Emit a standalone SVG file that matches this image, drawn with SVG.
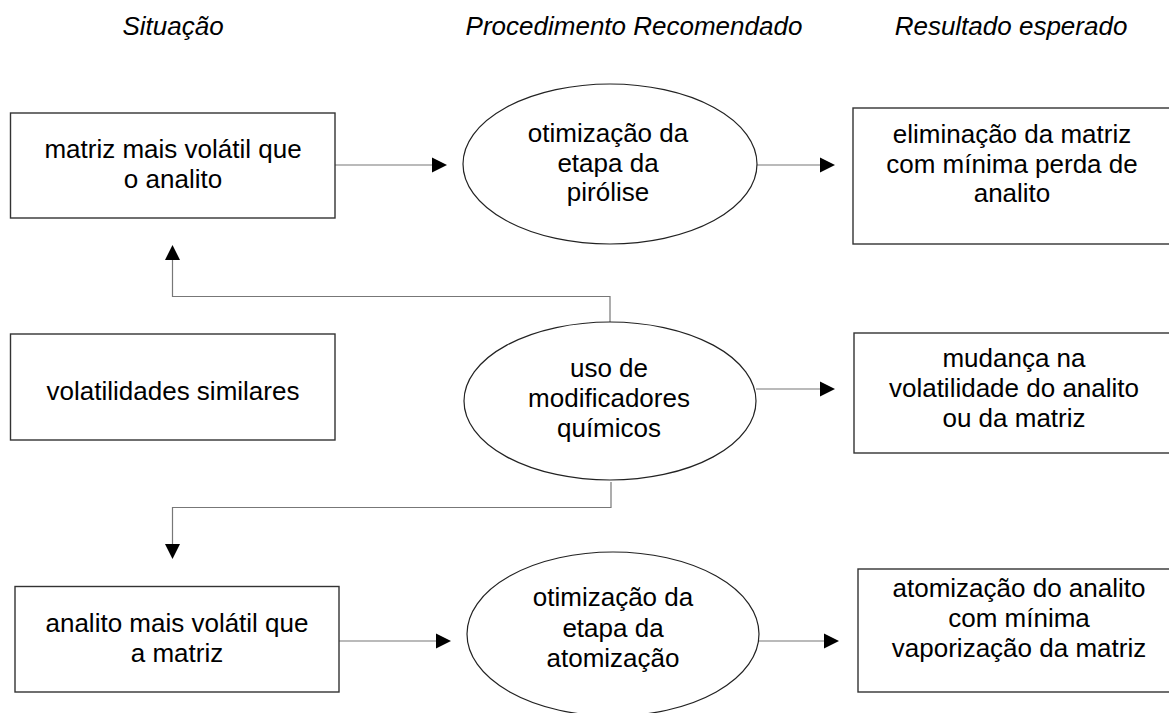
<svg xmlns="http://www.w3.org/2000/svg" width="1169" height="713" viewBox="0 0 1169 713">
<style>
  text { font-family: "Liberation Sans", Arial, sans-serif; font-size: 26px; fill: #000; text-anchor: middle; }
  .hdr { font-style: italic; }
  .box { fill: #fff; stroke: #333; stroke-width: 1.4; }
  .ell { fill: #fff; stroke: #222; stroke-width: 1.2; }
  .conn { fill: none; stroke: #777; stroke-width: 1.2; }
  .head { fill: #000; stroke: none; }
</style>
<rect width="1169" height="713" fill="#fff"/>
<g id="headers">
  <text class="hdr" x="173" y="35">Situação</text>
  <text class="hdr" x="634" y="35">Procedimento Recomendado</text>
  <text class="hdr" x="1011" y="35">Resultado esperado</text>
</g>
<g id="connectors">
  <line class="conn" x1="335" y1="165" x2="433" y2="165"/>
  <polygon class="head" points="447,165 432,157.5 432,172.5"/>
  <line class="conn" x1="757" y1="165" x2="822" y2="165"/>
  <polygon class="head" points="835,165 820,157.5 820,172.5"/>
  <polyline class="conn" points="610,322 610,296.5 172.5,296.5 172.5,260"/>
  <polygon class="head" points="172.5,245 165,260 180,260"/>
  <line class="conn" x1="756" y1="389" x2="822" y2="389"/>
  <polygon class="head" points="835,389 820,381.5 820,396.5"/>
  <polyline class="conn" points="611,482 611,507.5 172.5,507.5 172.5,545"/>
  <polygon class="head" points="172.5,559 165,544 180,544"/>
  <line class="conn" x1="339" y1="641" x2="437" y2="641"/>
  <polygon class="head" points="451,641 436,633.5 436,648.5"/>
  <line class="conn" x1="759" y1="641" x2="826" y2="641"/>
  <polygon class="head" points="839,641 824,633.5 824,648.5"/>
</g>
<g id="n-matriz-volatil">
  <rect class="box" x="10.5" y="113" width="324.5" height="105"/>
  <text x="173" y="158">matriz mais volátil que</text>
  <text x="173" y="188">o analito</text>
</g>
<g id="n-pirolise">
  <ellipse class="ell" cx="610" cy="164" rx="147" ry="80"/>
  <text x="608" y="142">otimização da</text>
  <text x="608" y="172">etapa da</text>
  <text x="608" y="201">pirólise</text>
</g>
<g id="n-eliminacao">
  <rect class="box" x="853" y="108" width="320" height="136"/>
  <text x="1012" y="143">eliminação da matriz</text>
  <text x="1012" y="173">com mínima perda de</text>
  <text x="1012" y="202">analito</text>
</g>
<g id="n-similares">
  <rect class="box" x="10.5" y="334" width="324.5" height="106"/>
  <text x="173" y="400">volatilidades similares</text>
</g>
<g id="n-modificadores">
  <ellipse class="ell" cx="610" cy="401" rx="146" ry="79"/>
  <text x="609" y="377">uso de</text>
  <text x="609" y="407">modificadores</text>
  <text x="609" y="437">químicos</text>
</g>
<g id="n-mudanca">
  <rect class="box" x="854" y="333" width="322" height="120"/>
  <text x="1014" y="367">mudança na</text>
  <text x="1014" y="397">volatilidade do analito</text>
  <text x="1014" y="427">ou da matriz</text>
</g>
<g id="n-analito-volatil">
  <rect class="box" x="15" y="586.5" width="324" height="105.5"/>
  <text x="177" y="632">analito mais volátil que</text>
  <text x="177" y="662">a matriz</text>
</g>
<g id="n-atomizacao">
  <ellipse class="ell" cx="613" cy="634" rx="146" ry="82"/>
  <text x="613" y="606">otimização da</text>
  <text x="613" y="637">etapa da</text>
  <text x="613" y="667">atomização</text>
</g>
<g id="n-atomizacao-result">
  <rect class="box" x="858" y="569" width="324" height="123"/>
  <text x="1019" y="597">atomização do analito</text>
  <text x="1019" y="627">com mínima</text>
  <text x="1019" y="657">vaporização da matriz</text>
</g>
</svg>
